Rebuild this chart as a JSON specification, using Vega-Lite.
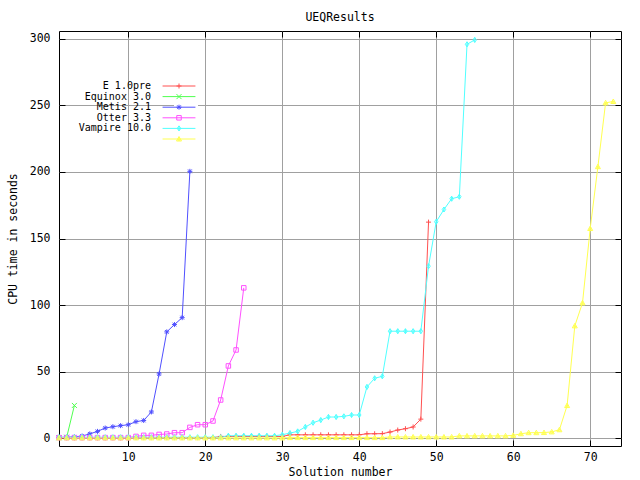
{
"$schema": "https://vega.github.io/schema/vega-lite/v6.json",
"width": 562, "height": 415,
"autosize": "none",
"padding": {"left": 59, "top": 31, "right": 19, "bottom": 34},
"background": "white",
"title": {"text": "UEQResults", "font": "DejaVu Sans Mono", "fontSize": 11.5, "fontWeight": "normal", "color": "black", "offset": 7, "anchor": "middle"},
"config": {
  "view": {"stroke": "black", "strokeWidth": 1},
  "axis": {"labelFont": "DejaVu Sans Mono", "labelFontSize": 11.5, "labelColor": "black", "titleFont": "DejaVu Sans Mono", "titleFontSize": 11.5, "titleFontWeight": "normal", "titleColor": "black", "tickColor": "black", "tickWidth": 1, "gridColor": "#a0a0a0", "gridOpacity": 1, "gridWidth": 1, "domain": false}
},
"data": {"values": [
{"series":"E 1.0pre","k":1,"x":1,"y":0.1},{"series":"E 1.0pre","k":1,"x":2,"y":0.1},{"series":"E 1.0pre","k":1,"x":3,"y":0.1},{"series":"E 1.0pre","k":1,"x":4,"y":0.1},{"series":"E 1.0pre","k":1,"x":5,"y":0.1},{"series":"E 1.0pre","k":1,"x":6,"y":0.1},{"series":"E 1.0pre","k":1,"x":7,"y":0.1},{"series":"E 1.0pre","k":1,"x":8,"y":0.1},{"series":"E 1.0pre","k":1,"x":9,"y":0.1},{"series":"E 1.0pre","k":1,"x":10,"y":0.1},
{"series":"E 1.0pre","k":1,"x":11,"y":0.3},{"series":"E 1.0pre","k":1,"x":12,"y":0.3},{"series":"E 1.0pre","k":1,"x":13,"y":0.3},{"series":"E 1.0pre","k":1,"x":14,"y":0.3},{"series":"E 1.0pre","k":1,"x":15,"y":0.3},{"series":"E 1.0pre","k":1,"x":16,"y":0.3},{"series":"E 1.0pre","k":1,"x":17,"y":0.3},{"series":"E 1.0pre","k":1,"x":18,"y":0.3},{"series":"E 1.0pre","k":1,"x":19,"y":0.3},{"series":"E 1.0pre","k":1,"x":20,"y":0.3},{"series":"E 1.0pre","k":1,"x":21,"y":0.3},
{"series":"E 1.0pre","k":1,"x":22,"y":1.2},{"series":"E 1.0pre","k":1,"x":23,"y":1.2},{"series":"E 1.0pre","k":1,"x":24,"y":1.2},{"series":"E 1.0pre","k":1,"x":25,"y":1.2},{"series":"E 1.0pre","k":1,"x":26,"y":1.2},{"series":"E 1.0pre","k":1,"x":27,"y":1.2},{"series":"E 1.0pre","k":1,"x":28,"y":1.2},{"series":"E 1.0pre","k":1,"x":29,"y":1.2},{"series":"E 1.0pre","k":1,"x":30,"y":1.2},
{"series":"E 1.0pre","k":1,"x":31,"y":2.4},{"series":"E 1.0pre","k":1,"x":32,"y":2.4},{"series":"E 1.0pre","k":1,"x":33,"y":2.4},{"series":"E 1.0pre","k":1,"x":34,"y":2.4},{"series":"E 1.0pre","k":1,"x":35,"y":2.4},{"series":"E 1.0pre","k":1,"x":36,"y":2.4},{"series":"E 1.0pre","k":1,"x":37,"y":2.4},{"series":"E 1.0pre","k":1,"x":38,"y":2.4},{"series":"E 1.0pre","k":1,"x":39,"y":2.4},{"series":"E 1.0pre","k":1,"x":40,"y":2.4},
{"series":"E 1.0pre","k":1,"x":41,"y":3.2},{"series":"E 1.0pre","k":1,"x":42,"y":3.2},{"series":"E 1.0pre","k":1,"x":43,"y":3.3},{"series":"E 1.0pre","k":1,"x":44,"y":4.5},{"series":"E 1.0pre","k":1,"x":45,"y":6.0},{"series":"E 1.0pre","k":1,"x":46,"y":7.0},{"series":"E 1.0pre","k":1,"x":47,"y":8.3},{"series":"E 1.0pre","k":1,"x":48,"y":14.2},{"series":"E 1.0pre","k":1,"x":49,"y":162.3},
{"series":"Equinox 3.0","k":2,"x":1,"y":0.2},{"series":"Equinox 3.0","k":2,"x":2,"y":0.6},{"series":"Equinox 3.0","k":2,"x":3,"y":24.5},
{"series":"Metis 2.1","k":3,"x":1,"y":0.4},{"series":"Metis 2.1","k":3,"x":2,"y":0.6},{"series":"Metis 2.1","k":3,"x":3,"y":0.9},{"series":"Metis 2.1","k":3,"x":4,"y":1.5},{"series":"Metis 2.1","k":3,"x":5,"y":3.1},{"series":"Metis 2.1","k":3,"x":6,"y":5.0},{"series":"Metis 2.1","k":3,"x":7,"y":7.5},{"series":"Metis 2.1","k":3,"x":8,"y":8.5},{"series":"Metis 2.1","k":3,"x":9,"y":9.3},{"series":"Metis 2.1","k":3,"x":10,"y":10.0},{"series":"Metis 2.1","k":3,"x":11,"y":12.3},{"series":"Metis 2.1","k":3,"x":12,"y":13.2},{"series":"Metis 2.1","k":3,"x":13,"y":19.6},{"series":"Metis 2.1","k":3,"x":14,"y":48.2},{"series":"Metis 2.1","k":3,"x":15,"y":79.8},{"series":"Metis 2.1","k":3,"x":16,"y":85.3},{"series":"Metis 2.1","k":3,"x":17,"y":90.5},{"series":"Metis 2.1","k":3,"x":18,"y":200.5},
{"series":"Otter 3.3","k":4,"x":1,"y":0.3},{"series":"Otter 3.3","k":4,"x":2,"y":0.3},{"series":"Otter 3.3","k":4,"x":3,"y":0.3},{"series":"Otter 3.3","k":4,"x":4,"y":0.3},{"series":"Otter 3.3","k":4,"x":5,"y":0.3},{"series":"Otter 3.3","k":4,"x":6,"y":0.3},{"series":"Otter 3.3","k":4,"x":7,"y":0.3},{"series":"Otter 3.3","k":4,"x":8,"y":0.3},{"series":"Otter 3.3","k":4,"x":9,"y":0.3},{"series":"Otter 3.3","k":4,"x":10,"y":0.3},
{"series":"Otter 3.3","k":4,"x":11,"y":1.2},{"series":"Otter 3.3","k":4,"x":12,"y":2.0},{"series":"Otter 3.3","k":4,"x":13,"y":2.0},{"series":"Otter 3.3","k":4,"x":14,"y":2.7},{"series":"Otter 3.3","k":4,"x":15,"y":3.0},{"series":"Otter 3.3","k":4,"x":16,"y":4.0},{"series":"Otter 3.3","k":4,"x":17,"y":4.0},{"series":"Otter 3.3","k":4,"x":18,"y":8.0},{"series":"Otter 3.3","k":4,"x":19,"y":10.0},{"series":"Otter 3.3","k":4,"x":20,"y":10.0},{"series":"Otter 3.3","k":4,"x":21,"y":12.8},{"series":"Otter 3.3","k":4,"x":22,"y":28.6},{"series":"Otter 3.3","k":4,"x":23,"y":54.2},{"series":"Otter 3.3","k":4,"x":24,"y":66.2},{"series":"Otter 3.3","k":4,"x":25,"y":112.9},
{"series":"Vampire 10.0","k":5,"x":1,"y":0.6},{"series":"Vampire 10.0","k":5,"x":2,"y":0.6},{"series":"Vampire 10.0","k":5,"x":3,"y":0.6},{"series":"Vampire 10.0","k":5,"x":4,"y":0.6},{"series":"Vampire 10.0","k":5,"x":5,"y":0.6},{"series":"Vampire 10.0","k":5,"x":6,"y":0.6},{"series":"Vampire 10.0","k":5,"x":7,"y":0.6},{"series":"Vampire 10.0","k":5,"x":8,"y":0.6},{"series":"Vampire 10.0","k":5,"x":9,"y":0.6},{"series":"Vampire 10.0","k":5,"x":10,"y":0.6},{"series":"Vampire 10.0","k":5,"x":11,"y":0.6},{"series":"Vampire 10.0","k":5,"x":12,"y":0.6},{"series":"Vampire 10.0","k":5,"x":13,"y":0.6},{"series":"Vampire 10.0","k":5,"x":14,"y":0.6},{"series":"Vampire 10.0","k":5,"x":15,"y":0.6},{"series":"Vampire 10.0","k":5,"x":16,"y":0.6},{"series":"Vampire 10.0","k":5,"x":17,"y":0.6},{"series":"Vampire 10.0","k":5,"x":18,"y":0.6},{"series":"Vampire 10.0","k":5,"x":19,"y":0.6},{"series":"Vampire 10.0","k":5,"x":20,"y":0.6},{"series":"Vampire 10.0","k":5,"x":21,"y":0.6},{"series":"Vampire 10.0","k":5,"x":22,"y":0.6},
{"series":"Vampire 10.0","k":5,"x":23,"y":1.7},{"series":"Vampire 10.0","k":5,"x":24,"y":1.7},{"series":"Vampire 10.0","k":5,"x":25,"y":1.7},{"series":"Vampire 10.0","k":5,"x":26,"y":1.7},{"series":"Vampire 10.0","k":5,"x":27,"y":1.7},{"series":"Vampire 10.0","k":5,"x":28,"y":1.7},{"series":"Vampire 10.0","k":5,"x":29,"y":1.7},
{"series":"Vampire 10.0","k":5,"x":30,"y":2.5},{"series":"Vampire 10.0","k":5,"x":31,"y":3.7},{"series":"Vampire 10.0","k":5,"x":32,"y":5.0},{"series":"Vampire 10.0","k":5,"x":33,"y":8.3},{"series":"Vampire 10.0","k":5,"x":34,"y":11.5},{"series":"Vampire 10.0","k":5,"x":35,"y":13.5},{"series":"Vampire 10.0","k":5,"x":36,"y":15.8},{"series":"Vampire 10.0","k":5,"x":37,"y":15.8},{"series":"Vampire 10.0","k":5,"x":38,"y":16.3},{"series":"Vampire 10.0","k":5,"x":39,"y":17.3},{"series":"Vampire 10.0","k":5,"x":40,"y":17.3},
{"series":"Vampire 10.0","k":5,"x":41,"y":38.4},{"series":"Vampire 10.0","k":5,"x":42,"y":44.9},{"series":"Vampire 10.0","k":5,"x":43,"y":46.4},{"series":"Vampire 10.0","k":5,"x":44,"y":80.3},{"series":"Vampire 10.0","k":5,"x":45,"y":80.3},{"series":"Vampire 10.0","k":5,"x":46,"y":80.3},{"series":"Vampire 10.0","k":5,"x":47,"y":80.3},{"series":"Vampire 10.0","k":5,"x":48,"y":80.3},{"series":"Vampire 10.0","k":5,"x":49,"y":129.2},{"series":"Vampire 10.0","k":5,"x":50,"y":162.6},{"series":"Vampire 10.0","k":5,"x":51,"y":171.8},{"series":"Vampire 10.0","k":5,"x":52,"y":179.9},{"series":"Vampire 10.0","k":5,"x":53,"y":181.4},{"series":"Vampire 10.0","k":5,"x":54,"y":296.0},{"series":"Vampire 10.0","k":5,"x":55,"y":299.3},
{"series":"","k":6,"x":1,"y":0.1},{"series":"","k":6,"x":2,"y":0.1},{"series":"","k":6,"x":3,"y":0.1},{"series":"","k":6,"x":4,"y":0.1},{"series":"","k":6,"x":5,"y":0.1},{"series":"","k":6,"x":6,"y":0.1},{"series":"","k":6,"x":7,"y":0.1},{"series":"","k":6,"x":8,"y":0.1},{"series":"","k":6,"x":9,"y":0.1},{"series":"","k":6,"x":10,"y":0.1},
{"series":"","k":6,"x":11,"y":0.1},{"series":"","k":6,"x":12,"y":0.1},{"series":"","k":6,"x":13,"y":0.1},{"series":"","k":6,"x":14,"y":0.1},{"series":"","k":6,"x":15,"y":0.1},{"series":"","k":6,"x":16,"y":0.1},{"series":"","k":6,"x":17,"y":0.1},{"series":"","k":6,"x":18,"y":0.1},{"series":"","k":6,"x":19,"y":0.1},{"series":"","k":6,"x":20,"y":0.1},
{"series":"","k":6,"x":21,"y":0.1},{"series":"","k":6,"x":22,"y":0.1},{"series":"","k":6,"x":23,"y":0.1},{"series":"","k":6,"x":24,"y":0.1},{"series":"","k":6,"x":25,"y":0.1},{"series":"","k":6,"x":26,"y":0.1},{"series":"","k":6,"x":27,"y":0.1},{"series":"","k":6,"x":28,"y":0.1},{"series":"","k":6,"x":29,"y":0.1},{"series":"","k":6,"x":30,"y":0.1},
{"series":"","k":6,"x":31,"y":0.3},{"series":"","k":6,"x":32,"y":0.3},{"series":"","k":6,"x":33,"y":0.3},{"series":"","k":6,"x":34,"y":0.3},{"series":"","k":6,"x":35,"y":0.3},{"series":"","k":6,"x":36,"y":0.3},{"series":"","k":6,"x":37,"y":0.3},{"series":"","k":6,"x":38,"y":0.3},{"series":"","k":6,"x":39,"y":0.3},{"series":"","k":6,"x":40,"y":0.3},{"series":"","k":6,"x":41,"y":0.3},{"series":"","k":6,"x":42,"y":0.3},{"series":"","k":6,"x":43,"y":0.3},
{"series":"","k":6,"x":44,"y":0.8},{"series":"","k":6,"x":45,"y":0.8},{"series":"","k":6,"x":46,"y":0.8},{"series":"","k":6,"x":47,"y":0.8},{"series":"","k":6,"x":48,"y":0.8},{"series":"","k":6,"x":49,"y":0.8},{"series":"","k":6,"x":50,"y":0.8},{"series":"","k":6,"x":51,"y":0.8},{"series":"","k":6,"x":52,"y":0.8},
{"series":"","k":6,"x":53,"y":1.6},{"series":"","k":6,"x":54,"y":1.6},{"series":"","k":6,"x":55,"y":1.6},{"series":"","k":6,"x":56,"y":1.6},{"series":"","k":6,"x":57,"y":1.6},{"series":"","k":6,"x":58,"y":1.6},{"series":"","k":6,"x":59,"y":1.6},{"series":"","k":6,"x":60,"y":2.0},
{"series":"","k":6,"x":61,"y":3.2},{"series":"","k":6,"x":62,"y":4.0},{"series":"","k":6,"x":63,"y":4.0},{"series":"","k":6,"x":64,"y":4.1},{"series":"","k":6,"x":65,"y":4.6},{"series":"","k":6,"x":66,"y":6.2},{"series":"","k":6,"x":67,"y":24.4},{"series":"","k":6,"x":68,"y":84.3},{"series":"","k":6,"x":69,"y":101.6},{"series":"","k":6,"x":70,"y":157.5},{"series":"","k":6,"x":71,"y":204.0},{"series":"","k":6,"x":72,"y":252.0},{"series":"","k":6,"x":73,"y":253.0}
]},
"layer": [
  {"mark": {"type": "line", "strokeWidth": 1},
   "encoding": {
     "x": {"field": "x", "type": "quantitative", "scale": {"domain": [1, 74], "nice": false, "zero": false},
           "axis": {"orient": "bottom", "values": [10,20,30,40,50,60,70], "grid": true, "tickSize": -6, "labelPadding": 11, "title": "Solution number", "titlePadding": 4}},
     "y": {"field": "y", "type": "quantitative", "scale": {"domain": [-6, 306], "nice": false, "zero": false},
           "axis": {"orient": "left", "values": [0,50,100,150,200,250,300], "grid": true, "tickSize": -6, "labelPadding": 15, "title": "CPU time in seconds", "titlePadding": 11}},
     "color": {"field": "series", "type": "nominal",
               "scale": {"domain": ["E 1.0pre","Equinox 3.0","Metis 2.1","Otter 3.3","Vampire 10.0",""], "range": ["#ff5050","#50ff50","#5050ff","#ff50ff","#50ffff","#ffff50"]},
               "legend": {"orient": "none", "legendX": 115, "legendY": 50, "title": null, "symbolType": "M-6,0H6", "symbolSize": 30, "symbolStrokeWidth": 1, "labelAlign": "right", "labelOffset": -33, "labelFont": "DejaVu Sans Mono", "labelFontSize": 10, "labelColor": "black", "rowPadding": 0.6, "fillColor": "white", "padding": 0}}
   }},
  {"mark": {"type": "point", "filled": false, "strokeWidth": 1, "size": 25, "opacity": 1},
   "encoding": {
     "x": {"field": "x", "type": "quantitative", "scale": {"domain": [1, 74], "nice": false, "zero": false},
           "axis": {"orient": "top", "values": [10,20,30,40,50,60,70], "grid": false, "labels": false, "tickSize": -6, "title": null}},
     "y": {"field": "y", "type": "quantitative", "scale": {"domain": [-6, 306], "nice": false, "zero": false},
           "axis": {"orient": "right", "values": [0,50,100,150,200,250,300], "grid": false, "labels": false, "tickSize": -6, "title": null}},
     "shape": {"field": "series", "type": "nominal", "sort": {"field": "k", "op": "min"},
               "scale": {"range": ["M-1,0H1M0,-1V1", "M-1,-1L1,1M-1,1L1,-1", "M-1,0H1M0,-1V1M-0.75,-0.75L0.75,0.75M-0.75,0.75L0.75,-0.75", "M-0.9,-0.9H0.9V0.9H-0.9Z", "M0,-1L0.7,0L0,1L-0.7,0ZM0,-1V1", "M0,-1L1,0.8H-1ZM0,-0.3L0.45,0.5H-0.45Z"]},
               "legend": {"orient": "none", "legendX": 115, "legendY": 50, "title": null, "symbolSize": 25, "symbolStrokeWidth": 1, "labelAlign": "right", "labelOffset": -33, "labelFont": "DejaVu Sans Mono", "labelFontSize": 10, "labelExpr": "''", "rowPadding": 0.6, "padding": 0}},
     "stroke": {"field": "series", "type": "nominal", "sort": {"field": "k", "op": "min"},
               "scale": {"range": ["#ff5050","#50ff50","#5050ff","#ff50ff","#50ffff","#ffff50"]},
               "legend": {"orient": "none", "legendX": 115, "legendY": 50, "title": null, "symbolSize": 25, "symbolStrokeWidth": 1, "labelAlign": "right", "labelOffset": -33, "labelFont": "DejaVu Sans Mono", "labelFontSize": 10, "labelExpr": "''", "rowPadding": 0.6, "padding": 0}}
   }}
],
"resolve": {"axis": {"x": "independent", "y": "independent"}}
}
